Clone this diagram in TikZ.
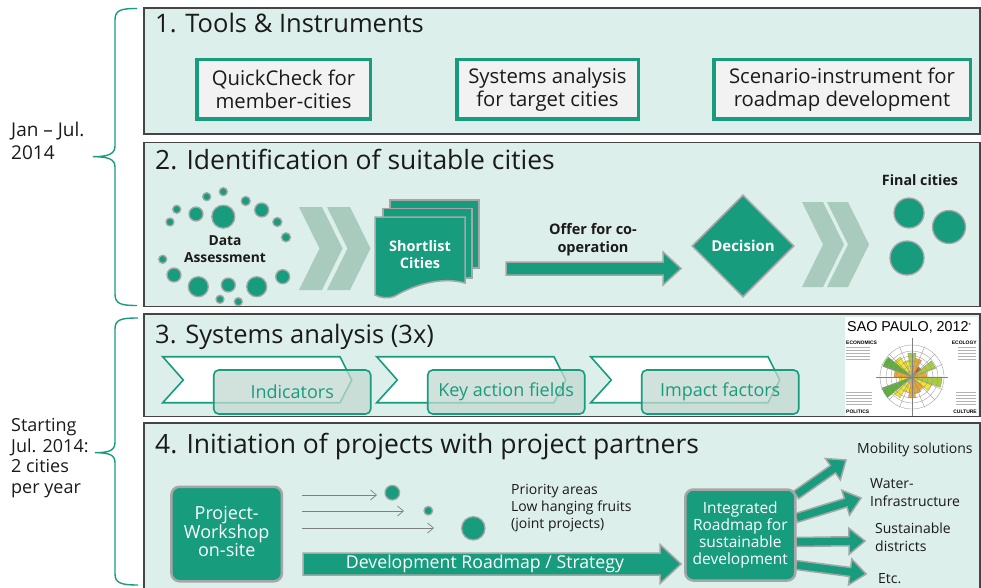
\documentclass[tikz,border=0pt]{standalone}
\usepackage{fontspec}
\setmainfont{Open Sans}
\newfontfamily\arialf{Liberation Sans}
\usetikzlibrary{shapes.geometric,arrows.meta,calc}
\definecolor{fhg}{HTML}{179C7D}
\definecolor{mint}{HTML}{DDEFEA}
\definecolor{bordgray}{HTML}{A6A6A6}
\definecolor{chevc}{HTML}{A9CBBE}
\definecolor{boxgray}{HTML}{F2F2F2}
\definecolor{secline}{HTML}{454545}
\definecolor{subfill}{HTML}{C2D9D1}
\definecolor{txt}{HTML}{1A1A1A}
\definecolor{spgreen}{HTML}{5DAE3A}
\definecolor{spyg}{HTML}{A8CF38}
\definecolor{spyel}{HTML}{F3E52B}
\definecolor{sporange}{HTML}{F5A623}
\definecolor{spred}{HTML}{E0401C}
\tikzset{
  secbox/.style={fill=mint, draw=secline, line width=1.2pt},
  sectitle/.style={anchor=base west, inner sep=0, text=txt, font=\fontsize{25.5}{28}\selectfont},
  toolbox/.style={draw=fhg, line width=3.5pt, fill=boxgray, minimum height=59.5pt, align=center, text=txt, font=\fontsize{20.3}{23.5}\selectfont, inner sep=0},
  dot/.style={circle, fill=fhg, draw=bordgray, line width=1.3pt, inner sep=0},
  chevfill/.style={fill=chevc},
  fat/.style={fill=fhg, draw=bordgray, line width=1.5pt, line join=miter},
  brace/.style={draw=fhg, line width=1.4pt},
  lbl/.style={align=left, inner sep=0, text=txt},
  smallbold/.style={align=center, inner sep=0, text=txt, font=\bfseries\fontsize{13.8}{17.5}\selectfont},
  whitelbl/.style={align=center, inner sep=0, text=white, font=\bfseries\fontsize{14.5}{17}\selectfont},
  whitechev/.style={fill=white, draw=fhg, line width=1.6pt},
  subbox/.style={fill=subfill, fill opacity=0.75, text opacity=1, draw=fhg, line width=1.6pt, rounded corners=5pt, minimum width=157pt, minimum height=44pt, text=fhg, font=\fontsize{18}{20}\selectfont},
  thinarr/.style={draw=gray, line width=0.7pt, -{Straight Barb[length=6pt,width=10pt]}},
  greenbox/.style={fill=fhg, draw=bordgray, line width=2.5pt, rounded corners=8pt, align=center, text=white, inner sep=0},
  outlbl/.style={anchor=base west, inner sep=0, align=left, text=txt, font=\fontsize{14}{18}\selectfont},
}
\newcommand\fatarrow[6][]{%
  \path let \p1=(#2), \p2=(#3),
    \n1={atan2((\y2)-(\y1),(\x2)-(\x1))}, \n2={veclen((\x2)-(\x1),(\y2)-(\y1))} in
    \pgfextra{\pgfmathsetmacro\fatA{\n1}\pgfmathsetmacro\fatL{\n2}\xdef\fatang{\fatA}\xdef\fatlen{\fatL}};
  \begin{scope}[shift={(#2)}, rotate=\fatang]
    \path[fat,#1] (0,-#4) -- ({\fatlen-#6},-#4) -- ({\fatlen-#6},-#5) -- (\fatlen,0)
      -- ({\fatlen-#6},#5) -- ({\fatlen-#6},#4) -- (0,#4) -- cycle;
  \end{scope}}
\newcommand\chevshape[5]{%
  \fill[chevfill] (#1,#2) -- ({#1+#4},#2) -- ({#1+#4+#5},{(#2+#3)/2}) -- ({#1+#4},#3)
    -- (#1,#3) -- ({#1+#5},{(#2+#3)/2}) -- cycle;}
\newcommand\sysstep[3]{%
  \path[whitechev] (#1,356.7) -- ({#1+177.3},356.7) -- ({#1+189},380) -- ({#1+177.3},402.7)
    -- (#1,402.7) -- ({#1+20.6},380) -- cycle;
  \node[subbox] (#2) at ({#1+129.5},392) {#3};}
\begin{document}
\begin{tikzpicture}[x=1pt,y=-1pt]
\useasboundingbox (0,0) rectangle (981,588);
% ---------- braces and period labels
\draw[brace] (137,8.5) .. controls (121,8.5) and (115,10) .. (115,20) -- (115,146)
  .. controls (115,154) and (108,156.7) .. (93,156.7)
  .. controls (108,156.7) and (115,159) .. (115,167) -- (115,294)
  .. controls (115,304) and (121,305.5) .. (137,305.5);
\draw[brace] (138,318) .. controls (121,318) and (115,319.5) .. (115,329) -- (115,442)
  .. controls (115,450) and (110,452.7) .. (95,452.7)
  .. controls (110,452.7) and (115,455) .. (115,463) -- (115,574)
  .. controls (115,583) and (121,585) .. (138,585);
\node[lbl, anchor=base west, font=\fontsize{19}{23}\selectfont] (jan) at (11,160) {Jan – Jul.\\2014};
\node[lbl, anchor=base west, font=\fontsize{18}{20.5}\selectfont] (start) at (11,493) {Starting\\Jul. 2014:\\2 cities\\per year};
% ---------- section boxes
\path[secbox] (144,8) rectangle (980,134);
\path[secbox] (144,142.7) rectangle (980,306.7);
\path[secbox] (144,314) rectangle (980,416.7);
\path[secbox] (144,423) rectangle (980,600);
\node[sectitle] (t1) at (155,33) {1. Tools \& Instruments};
\node[sectitle, font=\fontsize{26.5}{28}\selectfont] (t2) at (155,170) {2. Identification of suitable cities};
\node[sectitle] (t3) at (155,343) {3. Systems analysis (3x)};
\node[sectitle, font=\fontsize{26.5}{28}\selectfont] (t4) at (155,453) {4. Initiation of projects with project partners};
% ---------- section 1
\node[toolbox, minimum width=173.5pt] (qc) at (283.5,89.5) {QuickCheck for\\member-cities};
\node[toolbox, minimum width=181.5pt] (sa) at (547.5,89.5) {Systems analysis\\for target cities};
\node[toolbox, minimum width=256.5pt] (sc) at (842,89.5) {Scenario-instrument for\\roadmap development};
% ---------- section 2
\foreach \cx/\cy/\r [count=\i] in {223.3/191.7/4, 206.7/196.7/4, 245.7/201/4.5, 176.7/209.3/4,
  196/214/7, 223.3/216.7/11.5, 261.7/210/7, 170/222/4, 277.3/222/4.5, 286/237.3/4.5,
  162.7/259.3/4, 174/275/7, 198.3/286.7/10, 228.3/285/7, 256.7/286.7/10, 282.7/276.7/7,
  220/299.3/4, 238.3/301.7/4}
  \node[dot, minimum size={2*\r pt}] (d\i) at (\cx,\cy) {};
\node[smallbold] (data) at (225,249) {Data\\Assessment};
\chevshape{299}{207}{290}{23}{20.5}
\chevshape{327}{207}{290}{23}{20.5}
% shortlist documents
\path[fat] (390,200) rectangle (479,268);
\path[fat] (383,208.5) rectangle (472,278);
\path[fat] (375,217) -- (465,217) -- (465,283) .. controls (440,276) and (412,286) .. (395,296)
  .. controls (388,299) and (381,298) .. (375,295) -- cycle;
\node[whitelbl] (short) at (420,255) {Shortlist\\Cities};
\coordinate (offS) at (506,268.5);
\coordinate (offE) at (681,268.5);
\fatarrow{offS}{offE}{6.5}{16.5}{18}
\node[smallbold, font=\bfseries\fontsize{14.5}{18}\selectfont] (offer) at (593,240) {Offer for co-\\operation};
\node[diamond, aspect=1, minimum size=102pt, inner sep=0, fill=fhg, draw=bordgray, line width=1.6pt,
  text=white, font=\bfseries\fontsize{15}{17}\selectfont] (dec) at (743,246) {Decision};
\chevshape{802}{202}{287}{21}{21}
\chevshape{827}{202}{287}{21}{21}
\node[dot, minimum size=30pt] (f1) at (909,213) {};
\node[dot, minimum size=33pt] (f2) at (949,227) {};
\node[dot, minimum size=34pt] (f3) at (907,258) {};
\node[smallbold, anchor=base, font=\bfseries\fontsize{14.3}{17}\selectfont] (final) at (920,185) {Final cities};
% ---------- section 3
\sysstep{162.7}{ind}{Indicators}
\sysstep{376.7}{kaf}{Key action fields}
\sysstep{590.7}{imp}{Impact factors}
% Sao Paulo chart
\fill[white] (845,317) rectangle (978,416);
\node[anchor=base west, inner sep=0, font=\arialf\fontsize{14.3}{16}\selectfont] (sp) at (847,331) {SAO PAULO, 2012\raisebox{4pt}{\fontsize{6}{6}\selectfont*}};
\coordinate (spc) at (912,377);
\foreach \a/\b/\r/\c in {80/100/24/spyg, 100/120/17/spyel, 120/140/23/spyel, 140/160/31/spgreen,
  160/180/18/sporange, 180/200/13/spyel, 200/220/32/spgreen, 220/240/24/spyel, 240/260/16/spyel,
  260/280/21/sporange, 280/300/17/sporange, 300/320/15/sporange, 320/340/21/spyel, 340/360/30/spyg,
  0/20/15/sporange, 20/40/25/spyg, 40/60/12/spred, 60/80/19/sporange}
  \filldraw[fill=\c, draw=black!50, line width=0.2pt] (spc) -- ++(-\a:\r) arc[start angle=-\a, end angle=-\b, radius=\r] -- cycle;
\foreach \r in {6,11,16,21,26,32} \draw[gray!80, line width=0.35pt] (spc) circle[radius=\r];
\foreach \a in {0,22.5,...,337.5} \draw[gray!80, line width=0.35pt] (spc) -- ++(\a:33);
\draw[gray, line width=0.5pt] (912,338) -- (912,416);
\draw[gray, line width=0.5pt] (876,377) -- (948,377);
\node[anchor=base west, inner sep=0, font=\bfseries\arialf\fontsize{5}{5}\selectfont] (eco) at (846,344) {ECONOMICS};
\node[anchor=base east, inner sep=0, font=\bfseries\arialf\fontsize{5}{5}\selectfont] (ecl) at (977,344) {ECOLOGY};
\node[anchor=base west, inner sep=0, font=\bfseries\arialf\fontsize{5}{5}\selectfont] (pol) at (846,413) {POLITICS};
\node[anchor=base east, inner sep=0, font=\bfseries\arialf\fontsize{5}{5}\selectfont] (cul) at (977,413) {CULTURE};
\foreach \yy in {347,350,353,356,359} {
  \draw[gray!60, line width=0.6pt] (846,\yy) -- (870,\yy);
  \draw[gray!60, line width=0.6pt] (958,\yy) -- (976,\yy);}
\foreach \yy in {392,395,398,401,404} {
  \draw[gray!60, line width=0.6pt] (846,\yy) -- (872,\yy);
  \draw[gray!60, line width=0.6pt] (956,\yy) -- (976,\yy);}
% ---------- section 4
\node[greenbox, minimum width=110.5pt, minimum height=94.5pt] (pw) at (226.7,534) {};
\node[inner sep=0, align=center, text=white, font=\fontsize{18}{17.5}\selectfont] (pwt) at (226.7,531.5) {Project-\\Workshop\\on-site};
\node[dot, minimum size=14.6pt] (c1) at (392.3,492.7) {};
\node[dot, minimum size=8.6pt] (c2) at (428.3,510.7) {};
\node[dot, minimum size=23.4pt] (c3) at (473.3,528.3) {};
\coordinate (a1s) at (302,495); \coordinate (a1e) at (377,495);
\coordinate (a2s) at (302,511); \coordinate (a2e) at (404,511);
\coordinate (a3s) at (302,528); \coordinate (a3e) at (434,528);
\draw[thinarr] (a1s) -- (a1e);
\draw[thinarr] (a2s) -- (a2e);
\draw[thinarr] (a3s) -- (a3e);
\node[outlbl, font=\fontsize{14}{17}\selectfont] (prio) at (511,528) {Priority areas\\Low hanging fruits\\(joint projects)};
\coordinate (drS) at (303,564);
\coordinate (drE) at (681,564);
\fatarrow{drS}{drE}{11}{19.5}{21}
\node[inner sep=0, text=white, font=\fontsize{17.7}{19}\selectfont] (drl) at (485,564) {Development Roadmap / Strategy};
\coordinate (o1s) at (796,495); \coordinate (o1e) at (846,460);
\coordinate (o2s) at (796,518); \coordinate (o2e) at (861,498);
\coordinate (o3s) at (796,542); \coordinate (o3e) at (865,541);
\coordinate (o4s) at (796,565); \coordinate (o4e) at (866,574);
\fatarrow{o1s}{o1e}{4.5}{13}{16}
\fatarrow{o2s}{o2e}{4.5}{13}{16}
\fatarrow{o3s}{o3e}{4.5}{13}{16}
\fatarrow{o4s}{o4e}{4.5}{13}{16}
\node[greenbox, minimum width=110pt, minimum height=91pt, font=\fontsize{15.5}{17.2}\selectfont] (irm) at (740.3,535) {Integrated\\Roadmap for\\sustainable\\development};
\node[outlbl] (mob) at (857,453) {Mobility solutions};
\node[outlbl] (wat) at (870,506) {Water-\\Infrastructure};
\node[outlbl] (sus) at (875,551) {Sustainable\\districts};
\node[outlbl] (etc) at (878,583) {Etc.};
\end{tikzpicture}
\end{document}
